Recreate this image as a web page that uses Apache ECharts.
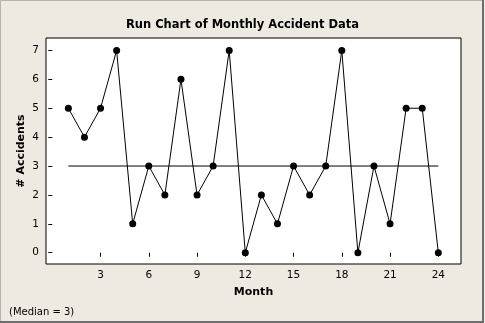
<!DOCTYPE html>
<html><head><meta charset="utf-8">
<script src="https://cdn.jsdelivr.net/npm/echarts@6/dist/echarts.min.js"></script>
<style>html,body{margin:0;padding:0;background:#EEEAE1;}#c{width:485px;height:323px;}</style>
</head><body><div id="c"></div>
<script>
var months = [1,2,3,4,5,6,7,8,9,10,11,12,13,14,15,16,17,18,19,20,21,22,23,24];
var accidents = [5,4,5,7,1,3,2,6,2,3,7,0,2,1,3,2,3,7,0,3,1,5,5,0];
var median = 3;
var xTicks = [3,6,9,12,15,18,21,24];
var yTicks = [0,1,2,3,4,5,6,7];
var titleText = 'Run Chart of Monthly Accident Data';
var xName = 'Month';
var yName = '# Accidents';
var noteText = '(Median = ' + median + ')';

var font = 'DejaVu Sans';
var chart = echarts.init(document.getElementById('c'), null, {renderer:'canvas'});
chart.setOption({
  backgroundColor: '#EEEAE1',
  animation: false,
  title: {text: titleText, left: 'center', top: 14,
    textStyle:{fontFamily:font, fontSize:11.5, fontWeight:'bold', color:'#000'}},
  grid: {left: 46, top: 38, right: 24, bottom: 59, show: true, borderColor:'#000', borderWidth:1, backgroundColor:'#fff'},
  xAxis: {type:'value', min:-0.39, max:25.41,
    name: xName, nameLocation:'middle', nameGap: 23, nameMoveOverlap: false,
    nameTextStyle:{fontFamily:font, fontSize:11, fontWeight:'bold', color:'#000'},
    axisLine:{show:false}, splitLine:{show:false},
    axisTick:{show:true, length:4, lineStyle:{color:'#000'}, customValues: xTicks},
    axisLabel:{fontFamily:font, fontSize:10.5, color:'#000', margin:6, customValues: xTicks}},
  yAxis: {type:'value', min:-0.39, max:7.43,
    name: yName, nameLocation:'middle', nameGap: 19, nameRotate: 90, nameMoveOverlap: false,
    nameTextStyle:{fontFamily:font, fontSize:11, fontWeight:'bold', color:'#000'},
    axisLine:{show:false}, splitLine:{show:false},
    axisTick:{show:true, length:4, lineStyle:{color:'#000'}, customValues: yTicks},
    axisLabel:{fontFamily:font, fontSize:10.5, color:'#000', margin:7, customValues: yTicks}},
  series: [
    {type:'line', data: [[months[0], median],[months[months.length-1], median]], symbol:'none',
      lineStyle:{color:'#000', width:1}, silent:true},
    {type:'line', data: months.map(function(m,i){return [m, accidents[i]];}),
      symbol:'circle', symbolSize:7, itemStyle:{color:'#000'},
      lineStyle:{color:'#000', width:1}}
  ],
  graphic: [
    {type:'text', left: 9, top: 307, style:{text: noteText, fontFamily:font, fontSize:10, fill:'#000'}},
    {type:'rect', shape:{x:0.5,y:0.5,width:483,height:321}, style:{fill:null, stroke:'#B8B4AC', lineWidth:1}, silent:true},
    {type:'line', shape:{x1:483,y1:0,x2:483,y2:322}, style:{stroke:'#6E6E6E', lineWidth:2}, silent:true},
    {type:'line', shape:{x1:0,y1:322,x2:484,y2:322}, style:{stroke:'#6E6E6E', lineWidth:2}, silent:true}
  ]
});
</script></body></html>
